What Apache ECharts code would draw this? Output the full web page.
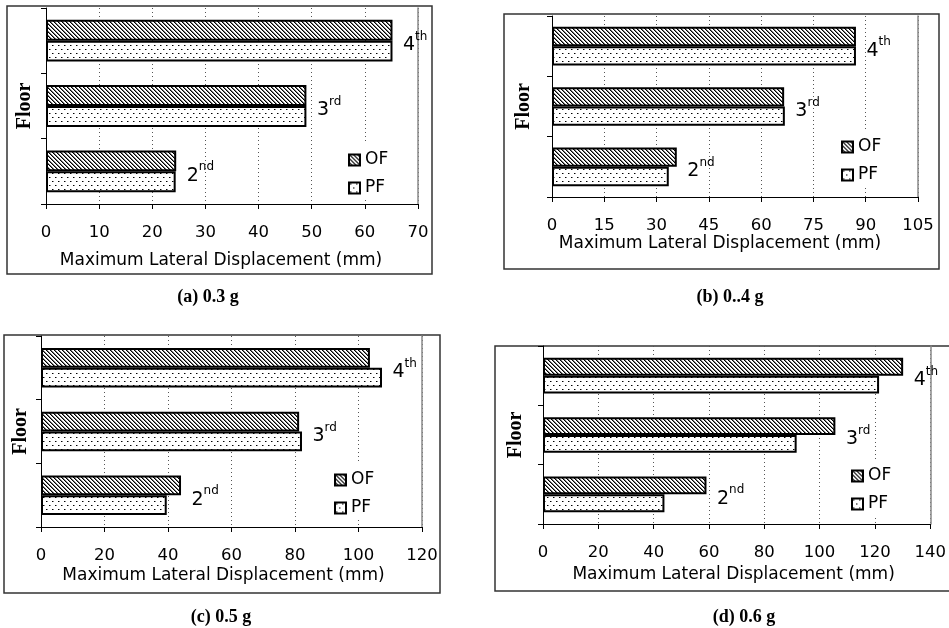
<!DOCTYPE html>
<html><head><meta charset="utf-8">
<script src="https://cdn.jsdelivr.net/npm/echarts@6/dist/echarts.min.js"></script>
<style>html,body{margin:0;padding:0;background:#fff}#c{width:949px;height:628px}</style>
</head><body><div id="c"></div>
<script>
// ---- data ----
const floors = ['2nd', '3rd', '4th'];
const seriesNames = ['OF', 'PF'];
const captions = ['(a) 0.3 g', '(b) 0..4 g', '(c) 0.5 g', '(d) 0.6 g'];
const axisMax = [70, 105, 120, 140];
const axisStep = [10, 15, 20, 20];
const xName = 'Maximum Lateral Displacement (mm)';
const yName = 'Floor';
const ofA = [24.5, 49.0, 65.2];
const pfA = [24.4, 49.0, 65.2];
const ofB = [35.8, 66.6, 87.2];
const pfB = [33.5, 66.8, 87.2];
const ofC = [44.1, 81.3, 103.6];
const pfC = [39.6, 82.2, 107.4];
const ofD = [59.1, 105.7, 130.2];
const pfD = [43.9, 91.7, 121.5];
const ofAll = [ofA, ofB, ofC, ofD];
const pfAll = [pfA, pfB, pfC, pfD];

// ---- layout (page pixels) ----
const layout = [
  {frame:[7,6,432,274], grid:{left:46,top:8,width:372,height:196}, gap:'36%', nameGap:48, namePad:22, yGap:11, legLeft:340, ofY:160, cap:[208,297]},
  {frame:[504,14,939,269], grid:{left:552,top:16,width:366,height:181}, gap:'36%', nameGap:36, namePad:30, yGap:18, legLeft:833, ofY:147, cap:[730,297]},
  {frame:[4,335,440,593], grid:{left:41,top:336,width:381,height:191}, gap:'38%', nameGap:40, namePad:16, yGap:10, legLeft:326, ofY:480, cap:[221,617]},
  {frame:[495,346,960,591], grid:{left:543,top:346,width:388,height:178}, gap:'40%', nameGap:42, namePad:6, yGap:17, legLeft:843, ofY:476, cap:[744,617]}
];

function hatchCanvas() {
  const c = document.createElement('canvas'); c.width = 4; c.height = 4;
  const g = c.getContext('2d');
  g.fillStyle = '#fff'; g.fillRect(0, 0, 4, 4);
  g.fillStyle = '#000';
  for (let i = 0; i < 4; i++) g.fillRect(i, i, 1, 1);
  g.fillStyle = '#777';
  for (let i = 0; i < 4; i++) g.fillRect((i + 1) % 4, i, 1, 1);
  return c;
}
function dotCanvas() {
  const c = document.createElement('canvas'); c.width = 6; c.height = 8;
  const g = c.getContext('2d');
  g.fillStyle = '#fff'; g.fillRect(0, 0, 6, 8);
  g.fillStyle = '#000';
  g.fillRect(1, 1, 1, 1); g.fillRect(4, 5, 1, 1);
  g.fillStyle = '#888';
  g.fillRect(2, 1, 1, 1); g.fillRect(5, 5, 1, 1);
  return c;
}
const hatch = {image: hatchCanvas(), repeat: 'repeat'};
const dots = {image: dotCanvas(), repeat: 'repeat'};

const font = 'DejaVu Sans';
const grids = [], xAxes = [], yAxes = [], series = [], legends = [], graphics = [];

layout.forEach((l, p) => {
  grids.push(Object.assign({containLabel: false}, l.grid));
  xAxes.push({
    gridIndex: p, type: 'value', min: 0, max: axisMax[p], interval: axisStep[p],
    axisLine: {show: true, lineStyle: {color: '#000', width: 1}},
    axisTick: {show: true, length: 5, lineStyle: {color: '#000'}},
    axisLabel: {color: '#000', fontFamily: font, fontSize: 16.5, margin: 20},
    splitLine: {show: true, lineStyle: {color: '#555', type: [1, 3], width: 1}},
    name: xName, nameLocation: 'middle', nameGap: l.nameGap,
    nameTextStyle: {fontFamily: font, fontSize: 17, color: '#000', padding: [0, l.namePad, 0, 0]}
  });
  yAxes.push({
    gridIndex: p, type: 'category', data: floors,
    axisLine: {show: true, lineStyle: {color: '#000', width: 1}},
    axisTick: {show: true, length: 5, lineStyle: {color: '#000'}},
    axisLabel: {show: false}, splitLine: {show: false},
    name: yName, nameLocation: 'middle', nameGap: l.yGap,
    nameTextStyle: {fontFamily: 'Liberation Serif', fontWeight: 'bold', fontSize: 20, color: '#000'}
  });
  yAxes.push({
    gridIndex: p, type: 'category', data: floors, position: 'right',
    axisLine: {show: true, lineStyle: {color: '#888', width: 1.5}},
    axisTick: {show: false}, axisLabel: {show: false}, splitLine: {show: false}
  });
  const of = ofAll[p], pf = pfAll[p];
  series.push({
    name: seriesNames[0], type: 'bar', xAxisIndex: p, yAxisIndex: 2 * p, data: of,
    barGap: '0%', barCategoryGap: l.gap,
    itemStyle: {color: hatch, borderColor: '#000', borderWidth: 2}, silent: true
  });
  series.push({
    name: seriesNames[1], type: 'bar', xAxisIndex: p, yAxisIndex: 2 * p, data: pf,
    barGap: '0%', barCategoryGap: l.gap,
    itemStyle: {color: dots, borderColor: '#000', borderWidth: 2}, silent: true
  });
  series.push({
    name: 'floorLabel' + p, type: 'scatter', xAxisIndex: p, yAxisIndex: 2 * p,
    data: floors.map((f, i) => Math.max(of[i], pf[i])),
    symbolSize: 1, itemStyle: {color: 'rgba(0,0,0,0)'}, silent: true,
    label: {
      show: true, position: 'right', distance: 10, offset: [0, 2], color: '#000', opacity: 1,
      formatter: (q) => {
        const m = floors[q.dataIndex].match(/^(\d+)(\D+)$/);
        return '{n|' + m[1] + '}{s|' + m[2] + '}';
      },
      rich: {
        n: {fontFamily: font, fontSize: 19, color: '#000', lineHeight: 24, verticalAlign: 'bottom'},
        s: {fontFamily: font, fontSize: 12, color: '#000', lineHeight: 24, verticalAlign: 'top'}
      }
    }
  });
  legends.push({
    data: seriesNames, orient: 'vertical', left: l.legLeft, top: l.ofY - 17,
    padding: [8, 10, 3, 8], itemGap: 10, itemWidth: 11, itemHeight: 11,
    backgroundColor: '#fff', selectedMode: false, icon: 'rect',
    itemStyle: {borderColor: '#000', borderWidth: 2},
    textStyle: {fontFamily: font, fontSize: 17, color: '#000', lineHeight: 18}
  });
  const f = l.frame;
  graphics.push({
    type: 'rect', silent: true, z: -10,
    shape: {x: f[0], y: f[1], width: f[2] - f[0], height: f[3] - f[1]},
    style: {fill: 'none', stroke: '#333', lineWidth: 1.5}
  });
  graphics.push({
    type: 'text', silent: true,
    style: {text: captions[p], x: l.cap[0], y: l.cap[1], font: 'bold 18px "Liberation Serif"',
      fill: '#000', align: 'center', verticalAlign: 'middle', textAlign: 'center', textVerticalAlign: 'middle'}
  });
});

const chart = echarts.init(document.getElementById('c'), null, {renderer: 'canvas'});
chart.setOption({
  animation: false,
  backgroundColor: '#fff',
  grid: grids, xAxis: xAxes, yAxis: yAxes, series: series, legend: legends, graphic: graphics
});
</script>
</body></html>
